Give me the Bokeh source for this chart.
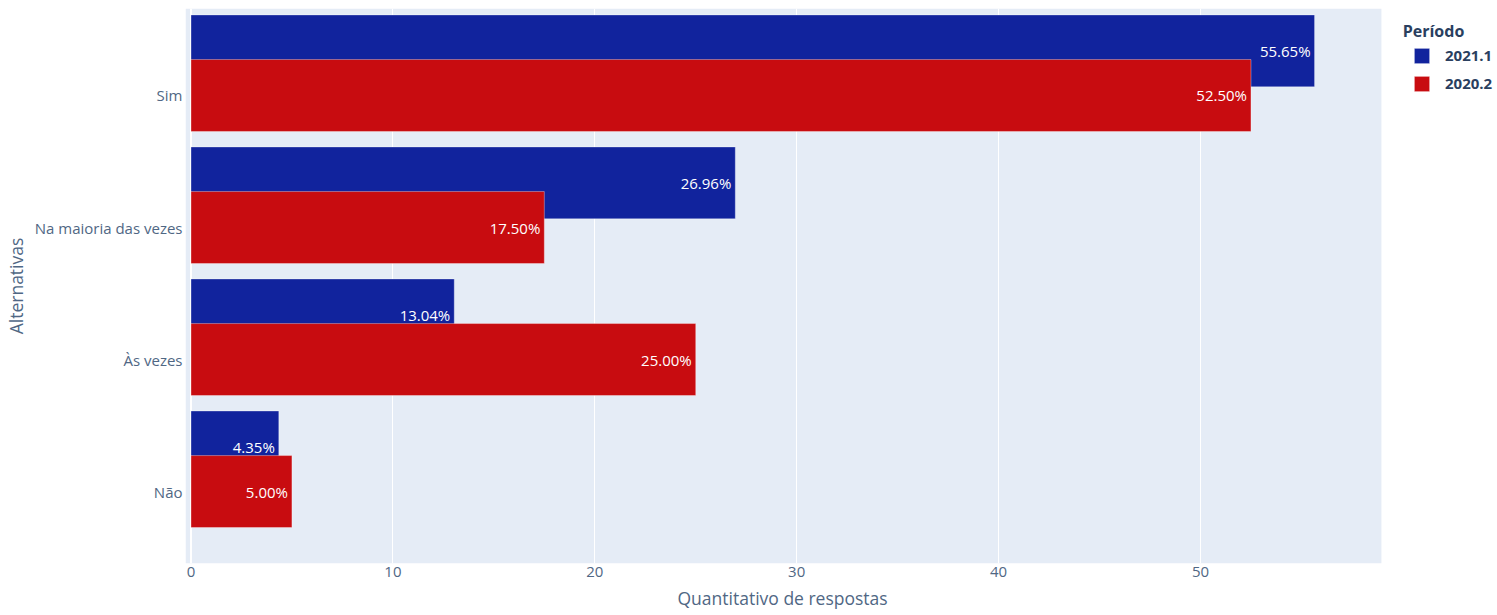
from bokeh.plotting import figure
from bokeh.models import (ColumnDataSource, Range1d, FixedTicker, Legend,
                          LegendItem, Span, BoxAnnotation, Label, Title)
from bokeh.transform import dodge
from bokeh.core.properties import value
from bokeh.embed import file_html
from bokeh.resources import INLINE

# ---- data ----
categories = ["Sim", "Na maioria das vezes", "Às vezes", "Não"]
periods = ["2021.1", "2020.2"]
values_2021_1 = [55.65, 26.96, 13.04, 4.35]
values_2020_2 = [52.50, 17.50, 25.00, 5.00]
x_ticks = [0, 10, 20, 30, 40, 50]

BLUE = "#11239D"
RED = "#C80C10"
TXT = "#2a3f5f"
TICK = "#506784"
FONT = "Open Sans"

ypos = [len(categories) - 1 - i for i in range(len(categories))]

src21 = ColumnDataSource(dict(y=ypos, v=values_2021_1,
                              lbl=[f"{v:.2f}%" for v in values_2021_1]))
src20 = ColumnDataSource(dict(y=ypos, v=values_2020_2,
                              lbl=[f"{v:.2f}%" for v in values_2020_2]))

# plot area spans x in [X0, X1]; the frame extends further right to hold the legend
X0, X1, XF = -0.272, 58.96, 64.71
W, H = 1497, 615
p = figure(width=W, height=H, output_backend="svg", toolbar_location=None,
           x_range=Range1d(X0, XF), y_range=Range1d(-0.545, 3.659),
           min_border_left=185, min_border_right=0, min_border_top=8,
           min_border_bottom=52)
p.background_fill_color = "white"
p.border_fill_color = "white"
p.outline_line_color = None

p.add_layout(BoxAnnotation(left=X0, right=X1, fill_color="#E5ECF6",
                           fill_alpha=1, line_color=None, level="image"))

p.xgrid.ticker = FixedTicker(ticks=x_ticks)
p.xgrid.grid_line_color = "white"
p.xgrid.grid_line_width = 1
p.ygrid.grid_line_color = None

p.add_layout(Span(location=0, dimension="height", line_color="white",
                  line_width=2, level="underlay"))

OFF = 0.338
BH = 0.545
r21 = p.hbar(y=dodge("y", OFF, range=p.y_range), right="v", left=0, height=BH,
             source=src21, fill_color=BLUE, line_color="white", line_alpha=0.35,
             line_width=1)
p.text(x="v", y=dodge("y", OFF, range=p.y_range), text="lbl", source=src21,
       x_offset=-4, text_align="right", text_baseline="middle",
       text_color="white", text_font_size="15px", text_font=value(FONT))
r20 = p.hbar(y="y", right="v", left=0, height=BH, source=src20,
             fill_color=RED, line_color="white", line_alpha=0.35, line_width=1)
p.text(x="v", y="y", text="lbl", source=src20,
       x_offset=-4, text_align="right", text_baseline="middle",
       text_color="white", text_font_size="15px", text_font=value(FONT))

# axes
p.xaxis.ticker = FixedTicker(ticks=x_ticks)
p.yaxis.ticker = FixedTicker(ticks=ypos)
p.yaxis.major_label_overrides = {y: c for y, c in zip(ypos, categories)}
for ax in (p.xaxis[0], p.yaxis[0]):
    ax.axis_line_color = None
    ax.major_tick_line_color = None
    ax.minor_tick_line_color = None
    ax.major_tick_out = 0
    ax.major_tick_in = 0
    ax.major_label_text_font = FONT
    ax.major_label_text_font_size = "15px"
    ax.major_label_text_color = TICK
    ax.axis_label_text_font = FONT
    ax.axis_label_text_font_size = "17.5px"
    ax.axis_label_text_font_style = "normal"
    ax.axis_label_text_color = TICK
p.xaxis.major_label_standoff = 3
p.yaxis.major_label_standoff = 3
p.yaxis.axis_label = "Alternativas"
p.yaxis.axis_label_standoff = 4

p.add_layout(Title(text="Quantitativo de respostas", align="left", offset=492,
                   standoff=9, text_font=FONT, text_font_size="17.5px",
                   text_font_style="normal", text_color=TICK), "below")

# legend
p.add_layout(Label(x=1248, y=533, x_units="screen", y_units="screen",
                   text="Período", text_font=FONT, text_font_style="bold",
                   text_font_size="16px", text_color=TXT,
                   text_align="center", text_baseline="middle"))
legend = Legend(items=[LegendItem(label=periods[0], renderers=[r21]),
                       LegendItem(label=periods[1], renderers=[r20])],
                location=(1227, 470), padding=0, margin=0, spacing=8,
                glyph_width=19, glyph_height=19, label_height=19,
                label_standoff=14, border_line_color=None,
                background_fill_alpha=0,
                label_text_font=FONT, label_text_font_style="bold",
                label_text_font_size="15px", label_text_color=TXT)
p.add_layout(legend, "center")

open("out.html", "w").write(file_html(p, INLINE))
